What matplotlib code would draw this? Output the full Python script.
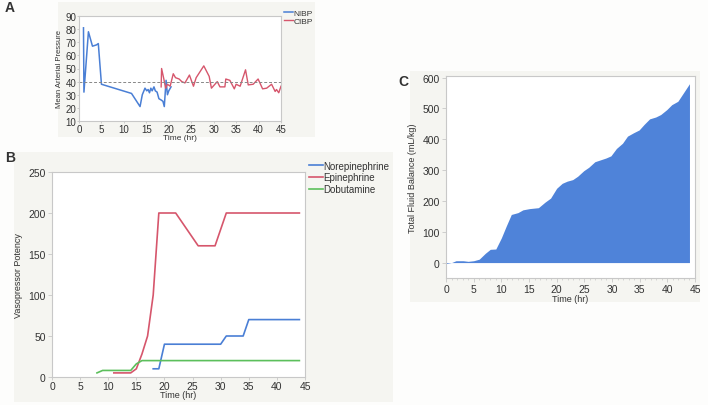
import matplotlib
matplotlib.use('Agg')
import matplotlib.pyplot as plt
from matplotlib.patches import Rectangle
from matplotlib.ticker import MultipleLocator

# Panel A: mean arterial pressure
nibp_t = [1.0, 1.1, 2.1, 3.0, 3.9, 4.3, 5.0, 11.7, 13.6, 14.1, 14.7, 15.1, 15.4, 15.7, 16.0, 16.3, 16.7,
          17.0, 17.4, 17.8, 18.3, 18.7, 19.0, 19.4, 19.7, 20.0, 20.5]
nibp_v = [81, 32, 78, 67, 68, 69, 38, 31, 21, 30, 35, 33, 34, 31.5, 35, 33, 36,
          33, 32, 27, 26, 25, 21, 41, 30, 33, 36]
cibp_t = [18.3, 18.4, 18.9, 19.3, 19.7, 20.3, 21.0, 21.5, 22.3, 22.9, 23.6, 24.6, 25.5, 26.1, 27.8,
          29.0, 29.5, 30.8, 31.4, 32.5, 32.7, 33.6, 34.6, 35.0, 35.9, 37.1, 37.7, 38.8, 39.9, 40.9,
          41.8, 42.9, 43.7, 44.0, 44.5, 45.0]
cibp_v = [36, 50, 42, 35, 38, 36.5, 46, 43, 42, 40, 39, 45, 36.5, 43, 52,
          44, 35, 40, 36, 36, 42, 41, 34.5, 38, 36.5, 49, 37.5, 38, 42, 34.5,
          35, 38, 32.5, 34, 31.5, 36.5]
map_threshold = 40

# Panel B: vasopressor potency
nor_t = [18, 19, 20, 30, 31, 34, 35, 44]
nor_v = [10, 10, 40, 40, 50, 50, 70, 70]
epi_t = [11, 14, 15, 16, 17, 18, 19, 22, 26, 29, 31, 44]
epi_v = [5, 5, 10, 28, 50, 100, 200, 200, 160, 160, 200, 200]
dob_t = [8, 9, 14, 15, 16, 44]
dob_v = [5, 8, 8, 16, 20, 20]

# Panel C: total fluid balance
fluid_t = [0, 1, 1.8, 3.1, 4, 5, 6, 7.1, 8, 9, 10, 10.9, 11.8, 13, 13.9, 15.1, 16.7, 17.9, 18.9,
           20, 21, 21.9, 22.9, 23.8, 24.9, 25.8, 26.9, 27.9, 28.9, 29.8, 30.8, 31.9, 32.8, 33.9,
           34.9, 35.8, 36.8, 37.9, 38.8, 39.9, 40.8, 41.9, 42.9, 44]
fluid_v = [-3, 0, 6, 6, 4, 6, 11, 30, 43, 44, 80, 119, 156, 162, 171, 175, 178, 196, 209,
           241, 257, 264, 269, 280, 298, 309, 327, 333, 339, 346, 370, 387, 410, 421,
           430, 448, 466, 472, 480, 496, 512, 523, 550, 580]

W, H = 708, 406
BLUE = '#4a7fd5'
RED = '#d6566c'
GREEN = '#5cbf5c'
SPINE = '#c8c8c8'
BG = '#f5f5f1'

plt.rcParams['font.family'] = ['Liberation Sans', 'DejaVu Sans']
plt.rcParams['text.color'] = '#333333'
plt.rcParams['axes.labelcolor'] = '#333333'

fig = plt.figure(figsize=(W / 100, H / 100), dpi=100)
fig.patch.set_facecolor('#fdfdfc')


def px_axes(x0, y0, x1, y1):
    ax = fig.add_axes([x0 / W, 1 - y1 / H, (x1 - x0) / W, (y1 - y0) / H])
    ax.set_zorder(2)
    ax.set_facecolor('white')
    return ax


def px_bg(x0, y0, x1, y1):
    fig.patches.append(Rectangle((x0 / W, 1 - y1 / H), (x1 - x0) / W, (y1 - y0) / H,
                                 transform=fig.transFigure, facecolor=BG, edgecolor='none', zorder=-10))


def style(ax):
    for s in ax.spines.values():
        s.set_color(SPINE)
        s.set_linewidth(0.8)
    ax.tick_params(labelsize=7.5, length=3, width=0.6, color=SPINE, pad=1.5, labelcolor='#333333')


px_bg(58, 3, 315, 138)
px_bg(14, 153, 393, 403)
px_bg(410, 72, 700, 303)

# A
axA = px_axes(79, 17, 281, 122)
axA.plot(nibp_t, nibp_v, color=BLUE, lw=1.1, label='NIBP')
axA.plot(cibp_t, cibp_v, color=RED, lw=1.0, label='CIBP')
axA.axhline(map_threshold, color='#888888', lw=0.7, ls=(0, (3, 2)))
axA.set_xlim(0, 45)
axA.set_ylim(10, 90)
axA.set_xticks(range(0, 46, 5))
axA.set_yticks(range(10, 91, 10))
axA.set_xlabel('Time (hr)', fontsize=6, labelpad=0.5)
axA.set_ylabel('Mean Arterial Pressure', fontsize=5.5, labelpad=2)
style(axA)
axA.tick_params(labelsize=7, length=1.5, pad=0.5)
axA.legend(loc='upper left', bbox_to_anchor=(1.0, 1.10), frameon=False, fontsize=6,
           handlelength=1.0, handletextpad=0.1, borderaxespad=0, labelspacing=0.1)
fig.text(5 / W, 1 - 8 / H, 'A', fontsize=10, fontweight='bold', va='center')

# B
axB = px_axes(52, 173, 305, 378)
axB.plot(nor_t, nor_v, color=BLUE, lw=1.2, label='Norepinephrine')
axB.plot(epi_t, epi_v, color=RED, lw=1.2, label='Epinephrine')
axB.plot(dob_t, dob_v, color=GREEN, lw=1.2, label='Dobutamine')
axB.set_xlim(0, 45)
axB.set_ylim(0, 250)
axB.set_xticks(range(0, 46, 5))
axB.set_yticks(range(0, 251, 50))
axB.set_xlabel('Time (hr)', fontsize=6.5, labelpad=-1)
axB.set_ylabel('Vasopressor Potency', fontsize=6.5, labelpad=4)
style(axB)
axB.tick_params(axis='x', length=2, pad=1)
axB.legend(loc='upper left', bbox_to_anchor=(1.0, 1.075), frameon=False, fontsize=7,
           handlelength=1.4, handletextpad=0.1, borderaxespad=0, labelspacing=0.2)
fig.text(5 / W, 1 - 158 / H, 'B', fontsize=10, fontweight='bold', va='center')

# C
axC = px_axes(446, 77, 695, 279)
axC.fill_between(fluid_t, 0, fluid_v, color='#4f83d9', lw=0)
axC.set_xlim(0, 45)
axC.set_ylim(-50, 605)
axC.set_xticks(range(0, 46, 5))
axC.set_yticks(range(0, 601, 100))
axC.xaxis.set_minor_locator(MultipleLocator(1))
axC.set_xlabel('Time (hr)', fontsize=6.5, labelpad=0)
axC.set_ylabel('Total Fluid Balance (mL/kg)', fontsize=6.5, labelpad=4)
style(axC)
axC.tick_params(which='minor', length=1.5, width=0.5, color=SPINE)
fig.text(398 / W, 1 - 82 / H, 'C', fontsize=10, fontweight='bold', va='center')

fig.savefig('out.png', dpi=100, facecolor=fig.get_facecolor())
